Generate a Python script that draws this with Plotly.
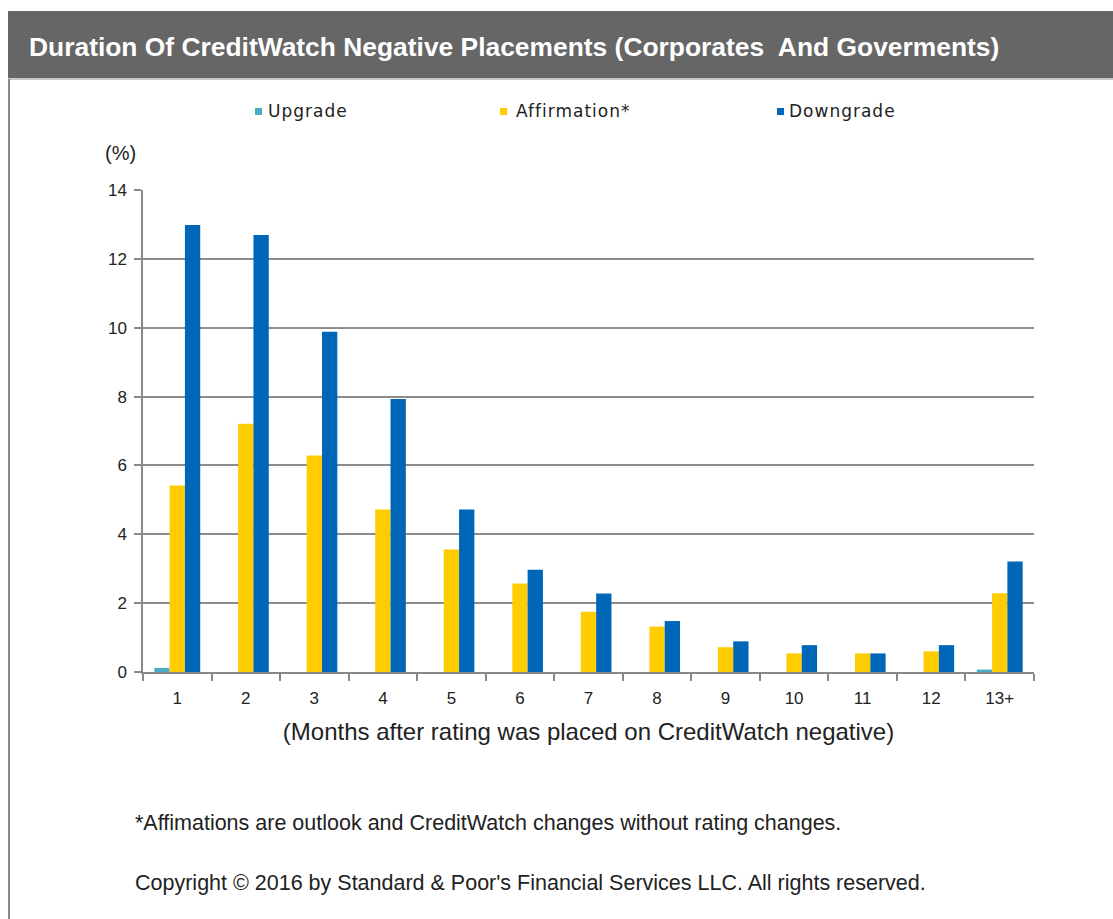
import plotly.graph_objects as go

# Months after placement on CreditWatch negative
months = ["1", "2", "3", "4", "5", "6", "7", "8", "9", "10", "11", "12", "13+"]

# Share of placements resolved in each month (%)
upgrade = [0.12, 0, 0, 0, 0, 0, 0, 0, 0, 0, 0, 0, 0.07]
affirmation = [5.42, 7.21, 6.29, 4.72, 3.56, 2.57, 1.75, 1.32, 0.72, 0.54, 0.54, 0.60, 2.29]
downgrade = [12.98, 12.69, 9.88, 7.93, 4.72, 2.97, 2.28, 1.48, 0.89, 0.78, 0.54, 0.78, 3.21]

series_names = ["Upgrade", "Affirmation*", "Downgrade"]
series_colors = ["#4BACC6", "#FFCC00", "#0066B8"]

FONT = "Liberation Sans Narrow, Arial Narrow, Liberation Sans, Arial, sans-serif"
WIDTH, HEIGHT = 1113, 919
L, R, T, B = 143, 79, 190, 247
PW = WIDTH - L - R
PH = HEIGHT - T - B


def px(x):
    """Pixel x -> paper x."""
    return (x - L) / PW


def py(y):
    """Pixel y (from top) -> paper y."""
    return (HEIGHT - B - y) / PH


fig = go.Figure()
for name, vals, col in zip(series_names, [upgrade, affirmation, downgrade], series_colors):
    fig.add_trace(go.Bar(
        x=months, y=vals, name=name,
        marker=dict(color=col, line=dict(width=0)),
        showlegend=False,
    ))

shapes = [
    # header band
    dict(type="rect", xref="paper", yref="paper", x0=px(8), x1=px(1113), y0=py(78), y1=py(11),
         fillcolor="#666666", line=dict(width=0), layer="below"),
    dict(type="line", xref="paper", yref="paper", x0=px(8), x1=px(1113), y0=py(79), y1=py(79),
         line=dict(color="#c8c8c8", width=2)),
    # left frame edge
    dict(type="line", xref="paper", yref="paper", x0=px(9), x1=px(9), y0=py(79), y1=py(919),
         line=dict(color="#8a8a8a", width=2)),
]

annotations = [
    dict(text="<b>Duration Of CreditWatch Negative Placements (Corporates  And Goverments)</b>",
         xref="paper", yref="paper", x=px(27), y=py(47), xanchor="left", yanchor="middle",
         showarrow=False, font=dict(family=FONT, size=26.4, color="white")),
    dict(text="(%)", xref="paper", yref="paper", x=px(103), y=py(153), xanchor="left", yanchor="middle",
         showarrow=False, font=dict(family=FONT, size=20, color="#222222")),
    dict(text="*Affimations are outlook and CreditWatch changes without rating changes.",
         xref="paper", yref="paper", x=px(133), y=py(823), xanchor="left", yanchor="middle",
         showarrow=False, font=dict(family=FONT, size=21.5, color="#222222")),
    dict(text="Copyright \u00a9 2016 by Standard & Poor's Financial Services LLC. All rights reserved.",
         xref="paper", yref="paper", x=px(133), y=py(883), xanchor="left", yanchor="middle",
         showarrow=False, font=dict(family=FONT, size=21.5, color="#222222")),
]

# legend row: colour square followed by label
legend_pos = [(255, 266), (500, 514), (777, 787)]
for (sq, tx), name, col in zip(legend_pos, series_names, series_colors):
    shapes.append(dict(type="rect", xref="paper", yref="paper", x0=px(sq), x1=px(sq + 7),
                       y0=py(115), y1=py(108), fillcolor=col, line=dict(width=0)))
    annotations.append(dict(text=f"<span style='letter-spacing:1px'>{name}</span>",
                            xref="paper", yref="paper", x=px(tx), y=py(111),
                            xanchor="left", yanchor="middle", showarrow=False,
                            font=dict(family="DejaVu Sans, Verdana, sans-serif", size=17, color="#222222")))

fig.update_layout(
    width=WIDTH, height=HEIGHT,
    margin=dict(l=L, r=R, t=T, b=B),
    paper_bgcolor="white", plot_bgcolor="white",
    barmode="group", bargap=0.33, bargroupgap=0,
    shapes=shapes, annotations=annotations,
    font=dict(family=FONT, color="#222222"),
)
fig.update_xaxes(
    type="category", showline=True, linecolor="#888888", linewidth=1.5,
    ticks="outside", tickson="boundaries", ticklen=7, tickcolor="#888888", tickwidth=1.5,
    ticklabelstandoff=10,
    tickfont=dict(family=FONT, size=17, color="#222222"), showgrid=False,
    title=dict(text="(Months after rating was placed on CreditWatch negative)",
               font=dict(family=FONT, size=24, color="#222222"), standoff=16),
)
fig.update_yaxes(
    range=[0, 14], dtick=2, showline=True, linecolor="#888888", linewidth=1.5,
    ticks="outside", ticklen=7, tickcolor="#888888", tickwidth=1.5,
    ticklabelstandoff=4,
    showgrid=True, gridcolor="#8c8c8c", gridwidth=1.5, zeroline=False,
    tickfont=dict(family=FONT, size=17, color="#222222"),
)

fig.write_html("out.html")
